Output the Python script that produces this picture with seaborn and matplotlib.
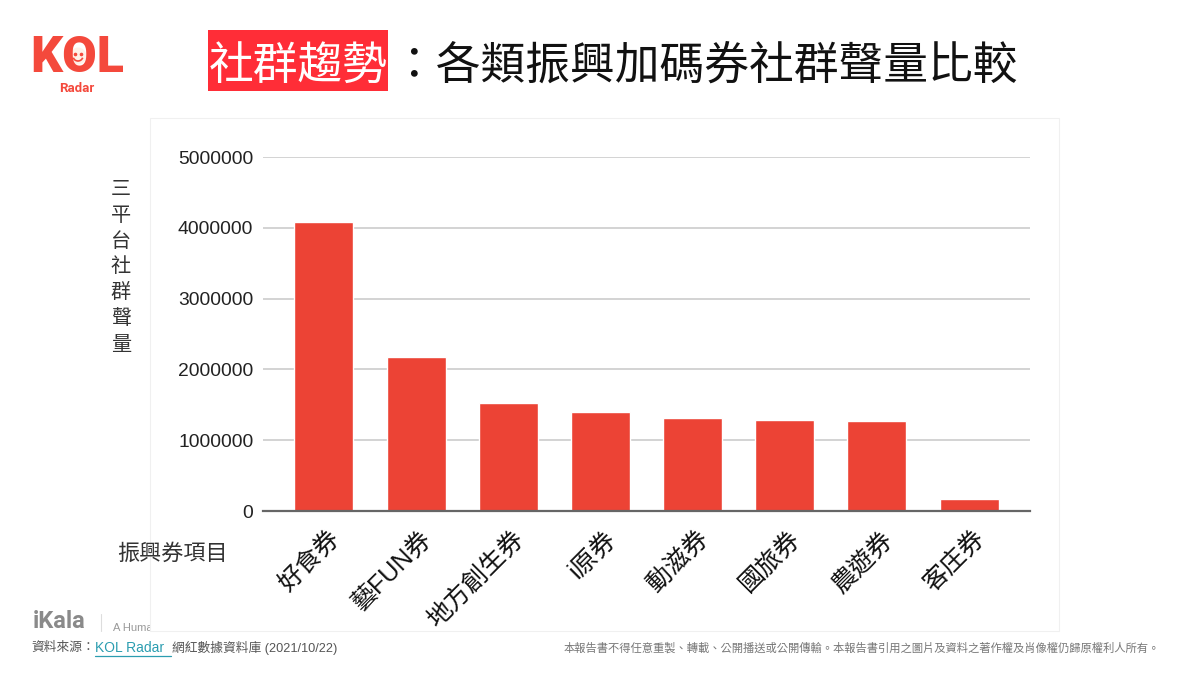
import matplotlib

matplotlib.use("Agg")

import matplotlib.pyplot as plt
from matplotlib.patches import Arc, Circle, Rectangle
from matplotlib.transforms import ScaledTranslation
import seaborn as sns

categories = ["好食券", "藝FUN券", "地方創生券", "i原券", "動滋券", "國旅券", "農遊券", "客庄券"]
volumes = [4075000, 2175000, 1525000, 1400000, 1315000, 1285000, 1265000, 175000]
y_ticks = [0, 1000000, 2000000, 3000000, 4000000, 5000000]

W, H = 1192, 673
CJK = ["Noto Sans CJK TC", "DejaVu Sans"]
LATIN_CJK = ["Liberation Sans", "Noto Sans CJK TC"]
BAR_RED = "#EC4335"
LOGO_RED = "#F4493C"


def px(x, y):
    return x / W, 1 - y / H


sns.set_theme(style="white")
plt.rcParams["font.family"] = LATIN_CJK

fig = plt.figure(figsize=(W / 100, H / 100), dpi=100, facecolor="white")

# watermark sits under the chart card
fig.text(*px(33, 622), "iKala", family="Roboto", weight="bold", fontsize=17, color="#8a8a8a", va="center", zorder=0)
fig.add_artist(plt.Line2D([px(101, 0)[0]] * 2, [px(0, 614)[1], px(0, 631)[1]], color="#dddddd", lw=0.8, zorder=0))
fig.text(*px(113, 628), "A Human", fontsize=8, color="#999999", va="center", zorder=0)

# chart card
x0, y1 = px(150, 631)
x1, y0 = px(1059, 118)
fig.add_artist(Rectangle((x0, y1), x1 - x0, y0 - y1, transform=fig.transFigure,
                         facecolor="white", edgecolor="#f0f0f0", lw=0.8, zorder=0.5))

left, bottom = px(263, 511)
right, top = px(1030, 157)
ax = fig.add_axes([left, bottom, right - left, top - bottom], facecolor="none", zorder=1)

sns.barplot(x=categories, y=volumes, color=BAR_RED, saturation=1, width=0.64, ax=ax, zorder=3)

ax.set_xlim(-0.66, 7.66)
ax.set_ylim(0, 5000000)
ax.set_yticks(y_ticks)
ax.set_yticklabels([str(v) for v in y_ticks], fontsize=13.9, color="#222222")
ax.grid(axis="y", color="#cccccc", lw=1.2, zorder=0)
ax.grid(axis="x", visible=False)
ax.set_axisbelow(True)
sns.despine(ax=ax, left=True)
ax.spines["bottom"].set_color("#666666")
ax.spines["bottom"].set_linewidth(1.6)
ax.spines["bottom"].set_zorder(5)
ax.tick_params(axis="both", length=0)
ax.tick_params(axis="y", pad=7)
ax.tick_params(axis="x", pad=11)
plt.setp(ax.get_xticklabels(), rotation=45, ha="right", va="top", rotation_mode="anchor",
         fontsize=18, color="#111111", family=LATIN_CJK)
shift = ScaledTranslation(2.5 / 72, 0, fig.dpi_scale_trans)
for label in ax.get_xticklabels():
    label.set_transform(label.get_transform() + shift)

# axis titles
fig.text(*px(121, 267), "\n".join("三平台社群聲量"), family=CJK, fontsize=14.5, color="#333333",
         ha="center", va="center", linespacing=1.31, zorder=3)
fig.text(*px(172, 554), "振興券項目", family=CJK, fontsize=15.9, color="#333333", ha="center", va="center", zorder=3)

# headline
bx, by = px(208, 91)
bx2, by2 = px(388, 30)
fig.add_artist(Rectangle((bx, by), bx2 - bx, by2 - by, transform=fig.transFigure,
                         facecolor="#FF2D37", edgecolor="none"))
fig.text(*px(298, 66), "社群趨勢", family=CJK, fontsize=32.2, color="white", ha="center", va="center")
fig.text(*px(704, 66), "：各類振興加碼券社群聲量比較", family=CJK, fontsize=32.2, color="#111111",
         ha="center", va="center")

# logo
fig.text(*px(77, 58), "KOL", family="Roboto", weight="black", fontsize=36, color=LOGO_RED,
         ha="center", va="center")
fig.text(*px(77, 89), "Radar", family="Roboto", weight="bold", fontsize=9.5, color=LOGO_RED,
         ha="center", va="center")
fig_ax = fig.add_axes([0, 0, 1, 1], facecolor="none", zorder=2)
fig_ax.set_xlim(0, W)
fig_ax.set_ylim(H, 0)
fig_ax.axis("off")
fig_ax.add_patch(Circle((78, 56), 8.5, facecolor="#FFF1E8", edgecolor="none"))
fig_ax.add_patch(Arc((78, 56), 10, 10, theta1=20, theta2=160, color=LOGO_RED, lw=1.2))
fig_ax.plot([75, 81], [54, 54], ls="none", marker="o", ms=1.6, color=LOGO_RED)

# footer
fig.text(*px(31, 648), "資料來源：", family=LATIN_CJK, fontsize=9.2, color="#555555", va="center")
fig.text(*px(95, 648), "KOL Radar", family=LATIN_CJK, fontsize=10, color="#2B9DB0", va="center")
fig_ax.plot([95, 171], [656, 656], color="#2B9DB0", lw=0.9)
fig.text(*px(172, 648), "網紅數據資料庫 (2021/10/22)", family=LATIN_CJK, fontsize=9.2, color="#555555", va="center")
fig.text(*px(1160, 648), "本報告書不得任意重製、轉載、公開播送或公開傳輸。本報告書引用之圖片及資料之著作權及肖像權仍歸原權利人所有。",
         family=CJK, fontsize=8.15, color="#777777", ha="right", va="center")

fig.savefig("out.png", dpi=100)
plt.close(fig)
